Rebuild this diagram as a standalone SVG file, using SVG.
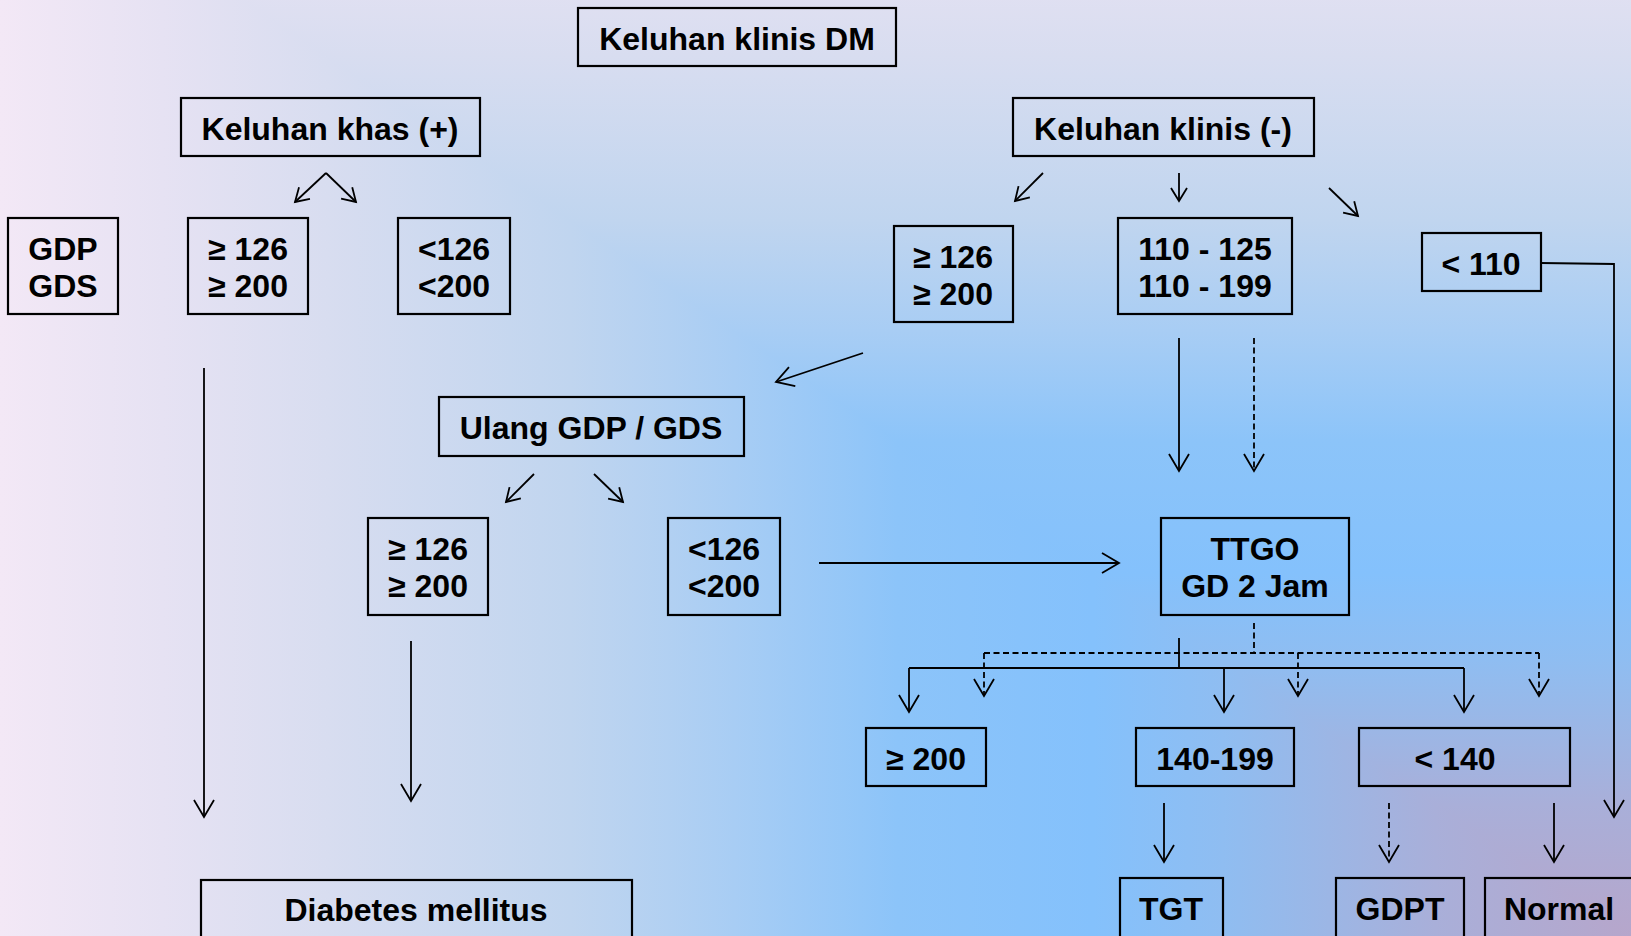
<svg xmlns="http://www.w3.org/2000/svg" width="1631" height="936" viewBox="0 0 1631 936">
<style>
.box{fill:none;stroke:#000;stroke-width:2.2}
.t{font-family:"Liberation Sans",Arial,sans-serif;font-weight:bold;font-size:32px;fill:#000;text-anchor:middle}
.c{fill:none;stroke:#000;stroke-width:1.8}
.d{stroke-dasharray:6,3.5}
</style>
<defs>
<linearGradient id="gx" gradientUnits="userSpaceOnUse" x1="1631" y1="0" x2="0" y2="0">
<stop offset="0" stop-color="#b6a6cb"/>
<stop offset="0.12" stop-color="#a9afd9"/>
<stop offset="0.25" stop-color="#8fbdf1"/>
<stop offset="0.33" stop-color="#84c1fc"/>
<stop offset="0.45" stop-color="#8cc4f9"/>
<stop offset="0.55" stop-color="#a8cdf4"/>
<stop offset="0.65" stop-color="#c0d5ef"/>
<stop offset="0.8" stop-color="#d8ddf0"/>
<stop offset="0.9" stop-color="#e6e2f3"/>
<stop offset="1" stop-color="#f3e8f6"/>
</linearGradient>
<linearGradient id="gy" gradientUnits="userSpaceOnUse" x1="0" y1="936" x2="0" y2="-164" xlink:href="#gx" xmlns:xlink="http://www.w3.org/1999/xlink"/>
<marker id="a" markerUnits="userSpaceOnUse" markerWidth="24" markerHeight="24" viewBox="-2 -2 24 24" refX="18" refY="10" orient="auto" overflow="visible">
<path d="M1,0 L18,10 L1,20" fill="none" stroke="#000" stroke-width="1.8"/>
</marker>
<marker id="s" markerUnits="userSpaceOnUse" markerWidth="20" markerHeight="20" viewBox="-2 -2 20 20" refX="14" refY="8" orient="auto" overflow="visible">
<path d="M1,0 L14,8 L1,16" fill="none" stroke="#000" stroke-width="1.8"/>
</marker>
</defs>
<g id="background">
<rect x="0" y="0" width="1631" height="936" fill="url(#gx)"/>
<polygon points="243,0 1631,0 1631,936" fill="url(#gy)"/>
</g>
<g id="connectors">
<path class="c" marker-end="url(#s)" d="M326,173 L295,202"/>
<path class="c" marker-end="url(#s)" d="M326,173 L356,202"/>
<path class="c" marker-end="url(#s)" d="M1043,173 L1015,201"/>
<path class="c" marker-end="url(#s)" d="M1179,173 L1179,201"/>
<path class="c" marker-end="url(#s)" d="M1329,188 L1358,216"/>
<path class="c" marker-end="url(#a)" d="M204,368 L204,817"/>
<path class="c" marker-end="url(#a)" d="M411,641 L411,801"/>
<path class="c" marker-end="url(#a)" d="M863,353 L776,382"/>
<path class="c" marker-end="url(#s)" d="M534,474 L506,502"/>
<path class="c" marker-end="url(#s)" d="M594,474 L623,502"/>
<path class="c" marker-end="url(#a)" d="M1179,338 L1179,471"/>
<path class="c d" marker-end="url(#a)" d="M1254,338 L1254,471"/>
<path class="c" marker-end="url(#a)" d="M819,563 L1119,563"/>
<path class="c" marker-end="url(#a)" d="M1541,263 L1614,264 L1614,817"/>
<path class="c" d="M1179,638 L1179,668 M909,668 L1464,668"/>
<path class="c" marker-end="url(#a)" d="M909,668 L909,712"/>
<path class="c" marker-end="url(#a)" d="M1224,668 L1224,712"/>
<path class="c" marker-end="url(#a)" d="M1464,668 L1464,712"/>
<path class="c d" d="M1254,623 L1254,653 M984,653 L1539,653"/>
<path class="c d" marker-end="url(#a)" d="M984,653 L984,696"/>
<path class="c d" marker-end="url(#a)" d="M1298,653 L1298,696"/>
<path class="c d" marker-end="url(#a)" d="M1539,653 L1539,696"/>
<path class="c" marker-end="url(#a)" d="M1164,803 L1164,862"/>
<path class="c d" marker-end="url(#a)" d="M1389,803 L1389,862"/>
<path class="c" marker-end="url(#a)" d="M1554,803 L1554,862"/>
</g>
<g id="n-keluhan-dm"><rect class="box" x="578" y="8" width="318" height="58"/><text class="t" x="737" y="50">Keluhan klinis DM</text></g>
<g id="n-khas"><rect class="box" x="181" y="98" width="299" height="58"/><text class="t" x="330" y="140">Keluhan khas (+)</text></g>
<g id="n-klinis-neg"><rect class="box" x="1013" y="98" width="301" height="58"/><text class="t" x="1163" y="140">Keluhan klinis (-)</text></g>
<g id="n-gdp-gds"><rect class="box" x="8" y="218" width="110" height="96"/><text class="t" x="63" y="260">GDP</text><text class="t" x="63" y="297">GDS</text></g>
<g id="n-ge126-left"><rect class="box" x="188" y="218" width="120" height="96"/><text class="t" x="248" y="260">≥ 126</text><text class="t" x="248" y="297">≥ 200</text></g>
<g id="n-lt126-left"><rect class="box" x="398" y="218" width="112" height="96"/><text class="t" x="454" y="260">&lt;126</text><text class="t" x="454" y="297">&lt;200</text></g>
<g id="n-ge126-right"><rect class="box" x="894" y="226" width="119" height="96"/><text class="t" x="953" y="268">≥ 126</text><text class="t" x="953" y="305">≥ 200</text></g>
<g id="n-110-125"><rect class="box" x="1118" y="218" width="174" height="96"/><text class="t" x="1205" y="260">110 - 125</text><text class="t" x="1205" y="297">110 - 199</text></g>
<g id="n-lt110"><rect class="box" x="1422" y="233" width="119" height="58"/><text class="t" x="1481" y="275">&lt; 110</text></g>
<g id="n-ulang"><rect class="box" x="439" y="397" width="305" height="59"/><text class="t" x="591" y="439">Ulang GDP / GDS</text></g>
<g id="n-ge126-mid"><rect class="box" x="368" y="518" width="120" height="97"/><text class="t" x="428" y="560">≥ 126</text><text class="t" x="428" y="597">≥ 200</text></g>
<g id="n-lt126-mid"><rect class="box" x="668" y="518" width="112" height="97"/><text class="t" x="724" y="560">&lt;126</text><text class="t" x="724" y="597">&lt;200</text></g>
<g id="n-ttgo"><rect class="box" x="1161" y="518" width="188" height="97"/><text class="t" x="1255" y="560">TTGO</text><text class="t" x="1255" y="597">GD 2 Jam</text></g>
<g id="n-ge200"><rect class="box" x="866" y="728" width="120" height="58"/><text class="t" x="926" y="770">≥ 200</text></g>
<g id="n-140-199"><rect class="box" x="1136" y="728" width="158" height="58"/><text class="t" x="1215" y="770">140-199</text></g>
<g id="n-lt140"><rect class="box" x="1359" y="728" width="211" height="58"/><text class="t" x="1455" y="770">&lt; 140</text></g>
<g id="n-tgt"><rect class="box" x="1120" y="878" width="103" height="70"/><text class="t" x="1171" y="920">TGT</text></g>
<g id="n-gdpt"><rect class="box" x="1336" y="878" width="128" height="70"/><text class="t" x="1400" y="920">GDPT</text></g>
<g id="n-normal"><rect class="box" x="1485" y="878" width="160" height="70"/><text class="t" x="1559" y="920">Normal</text></g>
<g id="n-dm"><rect class="box" x="201" y="880" width="431" height="70"/><text class="t" x="416" y="921">Diabetes mellitus</text></g>
</svg>
